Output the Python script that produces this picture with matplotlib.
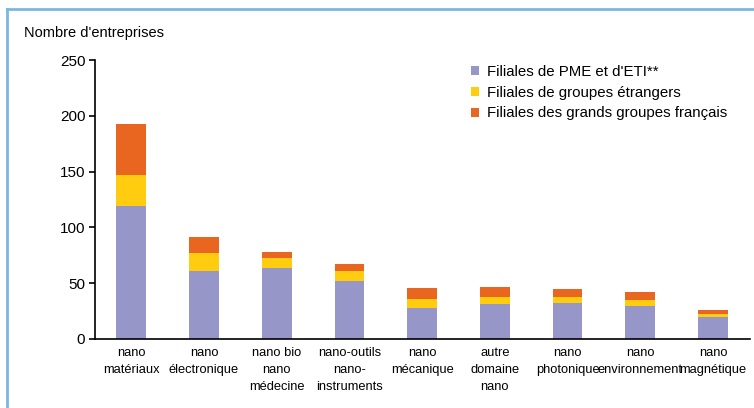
import numpy as np
import matplotlib
matplotlib.use("Agg")
from matplotlib import pyplot as plt
from matplotlib.lines import Line2D

plt.rcParams['font.family'] = ['Liberation Sans', 'DejaVu Sans']

# data
categories = ["nano\nmatériaux", "nano\nélectronique", "nano bio\nnano\nmédecine",
              "nano-outils\nnano-\ninstruments", "nano\nmécanique", "autre\ndomaine\nnano",
              "nano\nphotonique", "nano\nenvironnement", "nano\nmagnétique"]
pme = [119, 61, 64, 52, 28, 31, 32, 30, 20]
etrangers = [28, 16, 9, 9, 8, 7, 6, 5, 2]
francais = [46, 14, 5, 6, 10, 9, 7, 7, 4]
series_names = ["Filiales de PME et d'ETI**", "Filiales de groupes étrangers",
                "Filiales des grands groupes français"]
colors = ["#9796c8", "#ffcc10", "#e8661f"]

fig = plt.figure(figsize=(7.54, 4.08), dpi=100)
ax = fig.add_axes([95/754, 1-339/408, 655/754, 279/408])

x = np.arange(len(categories))
w = 0.41
b1 = np.array(pme)
b2 = b1 + np.array(etrangers)
ax.bar(x, pme, w, color=colors[0], label=series_names[0])
ax.bar(x, etrangers, w, bottom=b1, color=colors[1], label=series_names[1])
ax.bar(x, francais, w, bottom=b2, color=colors[2], label=series_names[2])

ax.set_xlim(-0.5, 8.51)
ax.set_ylim(0, 250)
ax.set_yticks(range(0, 251, 50))
ax.set_xticks(x)
ax.set_xticklabels(categories, fontsize=9.3, linespacing=1.55)
ax.tick_params(axis='x', length=0, pad=6)
ax.tick_params(axis='y', length=4, width=1.2, labelsize=11, pad=3)
for s in ["top", "right"]:
    ax.spines[s].set_visible(False)
ax.spines["left"].set_linewidth(1.2)
ax.spines["bottom"].set_linewidth(1.2)

ax.legend(loc="upper left", bbox_to_anchor=(471/754, 1-65/408), bbox_transform=fig.transFigure,
          frameon=False, fontsize=10.8, handlelength=0.55, handleheight=0.55,
          handletextpad=0.5, labelspacing=0.45, borderpad=0, borderaxespad=0)

fig.text(24/754, 1-33/408, "Nombre d'entreprises", fontsize=10.5, va="center", ha="left")

# light blue frame
fig.add_artist(Line2D([7/754, 7/754], [0, 1-9/408], color="#7ab8df", lw=2, transform=fig.transFigure))
fig.add_artist(Line2D([7/754, 1], [1-9/408, 1-9/408], color="#7ab8df", lw=2, transform=fig.transFigure))

fig.savefig("out.png", dpi=100)
